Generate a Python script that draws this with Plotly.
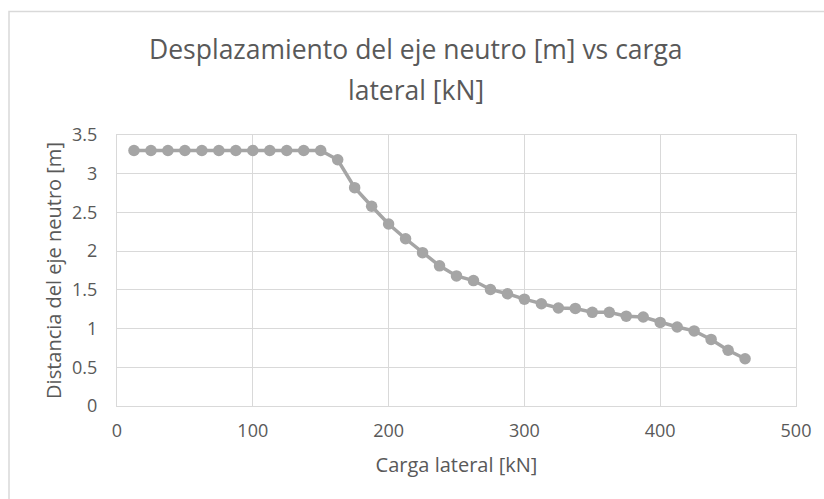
import plotly.graph_objects as go

carga_kN = [12.5 * k for k in range(1, 38)]
distancia_m = [3.3, 3.3, 3.3, 3.3, 3.3, 3.3, 3.3, 3.3, 3.3, 3.3, 3.3, 3.3,
               3.18, 2.82, 2.58, 2.35, 2.16, 1.98, 1.81, 1.68, 1.62, 1.505,
               1.45, 1.38, 1.32, 1.265, 1.26, 1.21, 1.21, 1.16, 1.15, 1.08,
               1.02, 0.97, 0.86, 0.72, 0.61]
x_ticks = [0, 100, 200, 300, 400, 500]
y_ticks = [0, 0.5, 1, 1.5, 2, 2.5, 3, 3.5]
title_lines = ["Desplazamiento del eje neutro [m] vs carga", "lateral [kN]"]

FONT = "Open Sans"
TXT = "#595959"
GRID = "#d9d9d9"

W, H = 824, 499
L, R, T, B = 117, 796, 134.5, 405.7
pw, ph = R - L, B - T

fig = go.Figure()
fig.add_trace(go.Scatter(
    x=carga_kN, y=distancia_m, mode="lines+markers",
    line=dict(color="#a5a5a5", width=3.5),
    marker=dict(color="#a5a5a5", size=11.5),
    showlegend=False, hoverinfo="x+y"))

fig.update_layout(
    width=W, height=H,
    margin=dict(l=L, r=W - R, t=T, b=H - B, pad=0),
    paper_bgcolor="white", plot_bgcolor="white",
    font=dict(family=FONT, color=TXT, size=18),
    xaxis=dict(range=[0, 500], tickvals=x_ticks, showgrid=True, gridcolor=GRID,
               gridwidth=1, zeroline=False, showline=True, linecolor=GRID,
               linewidth=1, mirror=True, ticks="outside", ticklen=8,
               tickcolor="rgba(0,0,0,0)", tickfont=dict(size=18, color=TXT),
               title=dict(text="Carga lateral [kN]", standoff=17,
                          font=dict(size=20, color=TXT))),
    yaxis=dict(range=[0, 3.5], tickvals=y_ticks, showgrid=True, gridcolor=GRID,
               gridwidth=1, zeroline=False, showline=True, linecolor=GRID,
               linewidth=1, mirror=True, ticks="outside", ticklen=15,
               tickcolor="rgba(0,0,0,0)", tickfont=dict(size=18, color=TXT),
               title=dict(text="Distancia del eje neutro [m]", standoff=5,
                          font=dict(size=20, color=TXT))),
)

# chart title, two lines
for i, (txt, yc) in enumerate(zip(title_lines, [48, 89])):
    fig.add_annotation(text=txt, xref="paper", yref="paper",
                       x=(416 - L) / pw, y=(B - yc) / ph,
                       xanchor="center", yanchor="middle", showarrow=False,
                       font=dict(family=FONT, size=26.5, color=TXT))

# outer chart border (left and top visible)
fig.add_shape(type="rect", xref="paper", yref="paper",
              x0=(9 - L) / pw, x1=(W + 20 - L) / pw,
              y0=(B - (H + 20)) / ph, y1=(B - 11) / ph,
              line=dict(color=GRID, width=1.5), fillcolor="rgba(0,0,0,0)",
              layer="below")

fig.write_html("out.html")
